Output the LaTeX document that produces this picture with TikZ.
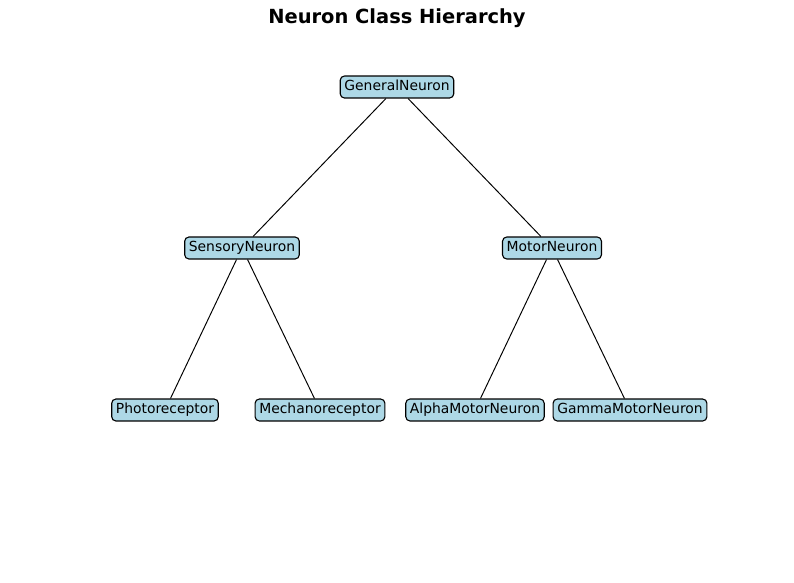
\documentclass[tikz,border=0pt]{standalone}
\usepackage{fontspec}
\setmainfont{DejaVu Sans}
\usetikzlibrary{positioning}
\definecolor{nblue}{HTML}{ADD8E6}
\tikzset{
  cls/.style={
    draw=black, fill=nblue, line width=0.8pt, rounded corners=3pt,
    inner xsep=3pt, inner ysep=3pt, text height=7.5pt, text depth=2.3pt,
    font=\fontsize{10}{12}\selectfont
  },
  link/.style={draw=black, line width=0.7pt},
  ttl/.style={font=\fontsize{14}{16}\selectfont\bfseries}
}
\begin{document}
\begin{tikzpicture}[x=0.72pt, y=-0.72pt]
  \useasboundingbox (0,0) rectangle (794,582);
  \node[ttl] (title) at (397,18) {Neuron Class Hierarchy};
  % levels at y = 87, 248, 410
  \node[cls] (general) at (397,87) {GeneralNeuron};
  \node[cls] (sensory) at (242,248) {SensoryNeuron};
  \node[cls] (motor) at (552,248) {MotorNeuron};
  \node[cls] (photo) at (165,410) {Photoreceptor};
  \node[cls] (mechano) at (320,410) {Mechanoreceptor};
  \node[cls] (alpha) at (475,410) {AlphaMotorNeuron};
  \node[cls] (gamma) at (630,410) {GammaMotorNeuron};
  \foreach \a/\b in {general/sensory, general/motor, sensory/photo,
                     sensory/mechano, motor/alpha, motor/gamma}
    \draw[link] (\a) -- (\b);
\end{tikzpicture}
\end{document}
